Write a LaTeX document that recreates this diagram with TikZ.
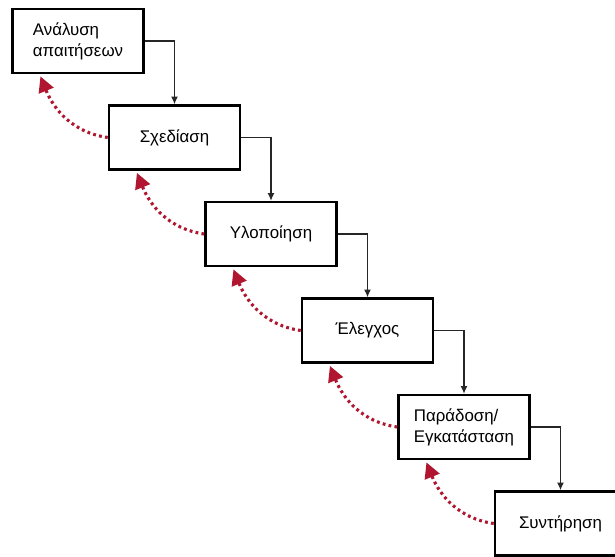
\documentclass[tikz,border=0pt]{standalone}
\usepackage{fontspec}
\setmainfont{Liberation Sans}
\usetikzlibrary{arrows.meta}
\definecolor{backred}{RGB}{176,22,48}
\tikzset{
  phase/.style={draw,line width=1.8pt,fill=white,minimum width=3.275cm,minimum height=1.6cm,align=left,font=\fontsize{12}{15}\selectfont},
  flow/.style={draw=black!85,line width=0.9pt,-{Latex[length=5.5pt,width=5pt]}},
  loopback/.style={draw=backred,line width=2.2pt,dash pattern=on 2pt off 2.3pt,-{Triangle[length=11pt,width=11pt]}}
}
\begin{document}
\begin{tikzpicture}
\useasboundingbox (0,0) rectangle (15.375,-13.9);
\clip (0,0) rectangle (15.375,-13.9);

\node[phase] (analysis) at (1.95,-1.025) {Ανάλυση\\απαιτήσεων};
\node[phase] (design) at (4.3625,-3.4375) {Σχεδίαση};
\node[phase] (impl) at (6.775,-5.85) {Υλοποίηση};
\node[phase] (test) at (9.1875,-8.2625) {Έλεγχος};
\node[phase] (deploy) at (11.6,-10.675) {Παράδοση/\\Εγκατάσταση};
\node[phase] (maint) at (14.0125,-13.0875) {Συντήρηση};

\foreach\a/\b in {analysis/design,design/impl,impl/test,test/deploy,deploy/maint}
{
\draw[flow] (\a.east) -| (\b.north);
\draw[loopback] (\b.west) to[out=172,in=-68] ([xshift=0.73cm,yshift=-1.5pt]\a.south west);
}
\end{tikzpicture}
\end{document}
